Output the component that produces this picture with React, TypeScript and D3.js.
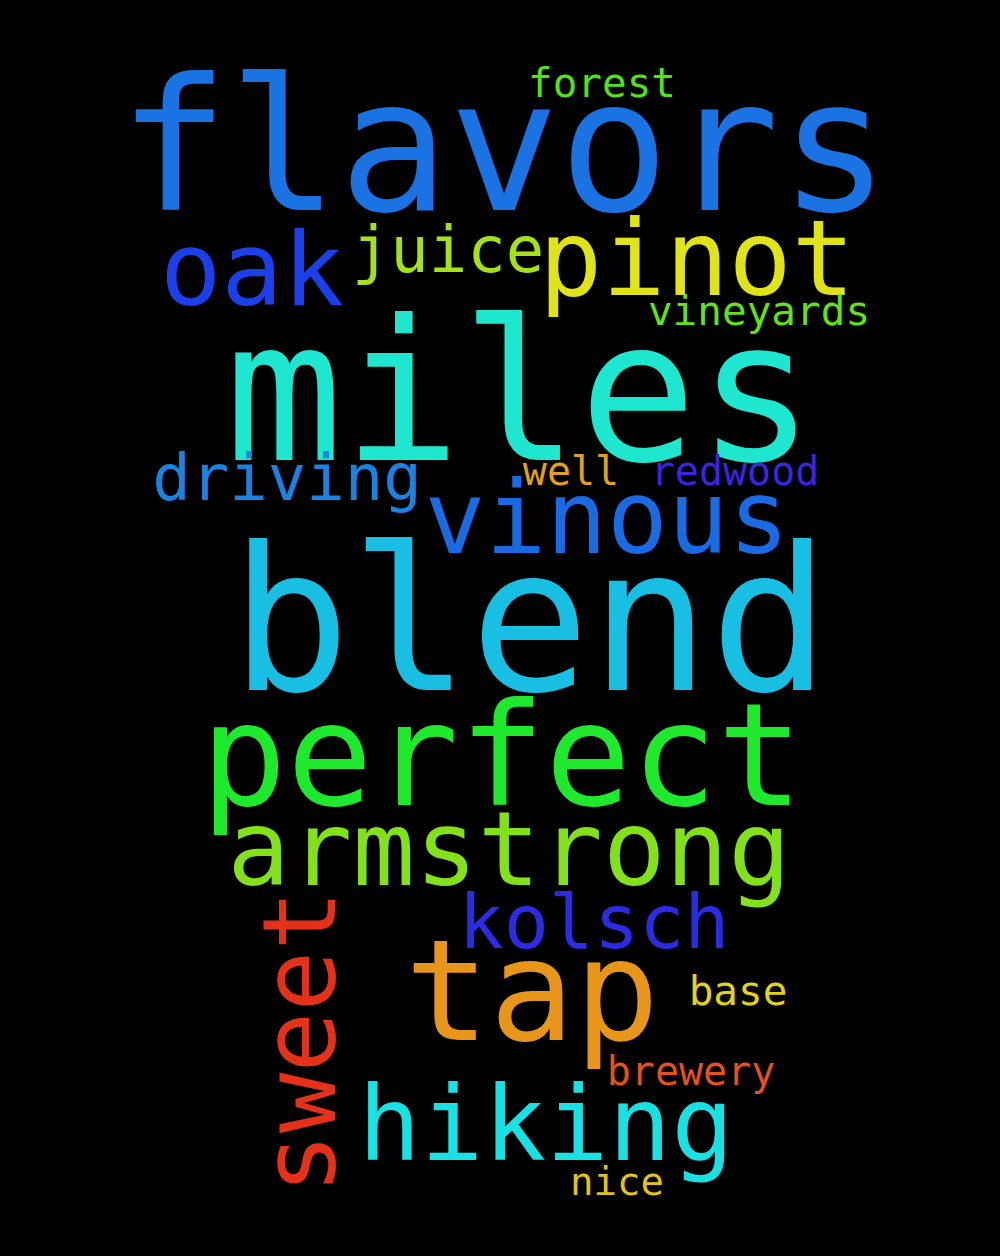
import * as d3 from "d3";
import React from "react";

const WIDTH = 1000;
const HEIGHT = 1256;

// word cloud data
const words = ["flavors", "miles", "blend", "perfect", "armstrong", "tap", "hiking", "sweet", "kolsch", "vinous", "driving", "oak", "pinot", "juice", "forest", "vineyards", "redwood", "well", "base", "brewery", "nice"];
const sizes = [183, 196, 199, 143, 104, 141, 104, 101, 75, 101, 64, 102, 105, 64, 41, 41, 40, 40, 41, 40, 39];
const colors = ["#1b72e3", "#1ee6cf", "#19bfe3", "#1fe92d", "#82e11b", "#e8961b", "#19e0e3", "#e33219", "#2a2be3", "#1a6be3", "#1a82e0", "#1b40ea", "#e1e31a", "#a2e11b", "#52e11a", "#62e01a", "#3c24e3", "#e3a11a", "#e3d21a", "#e3521a", "#e3c21a"];
const rotations = [0, 0, 0, 0, 0, 0, 0, -90, 0, 0, 0, 0, 0, 0, 0, 0, 0, 0, 0, 0, 0];
// layout: word centre x and baseline y, in cloud units (0..1000, 0..1256)
const layoutX = [504, 520, 530, 502, 509, 532, 546, 335, 594, 607, 287, 252, 697, 448, 602, 759, 735, 571, 738, 691, 617];
const layoutY = [210, 460, 690, 805, 885, 1040, 1160, 1042, 948, 553, 500, 305, 295, 272, 97, 325, 485, 485, 1005, 1085, 1195];

const App: React.FC = () => {
  const x = d3.scaleLinear().domain([0, 1000]).range([0, WIDTH]);
  const y = d3.scaleLinear().domain([0, 1256]).range([0, HEIGHT]);

  return (
    <svg
      width={WIDTH}
      height={HEIGHT}
      style={{ position: "absolute", top: 0, left: 0, background: "#000" }}
    >
      <rect width={WIDTH} height={HEIGHT} fill="#000" />
      {words.map((w, i) => (
        <text
          key={w}
          transform={`translate(${x(layoutX[i])},${y(layoutY[i])}) rotate(${rotations[i]})`}
          textAnchor="middle"
          fontFamily="'DejaVu Sans Mono', monospace"
          fontSize={sizes[i]}
          fill={colors[i]}
        >
          {w}
        </text>
      ))}
    </svg>
  );
};

export default App;
